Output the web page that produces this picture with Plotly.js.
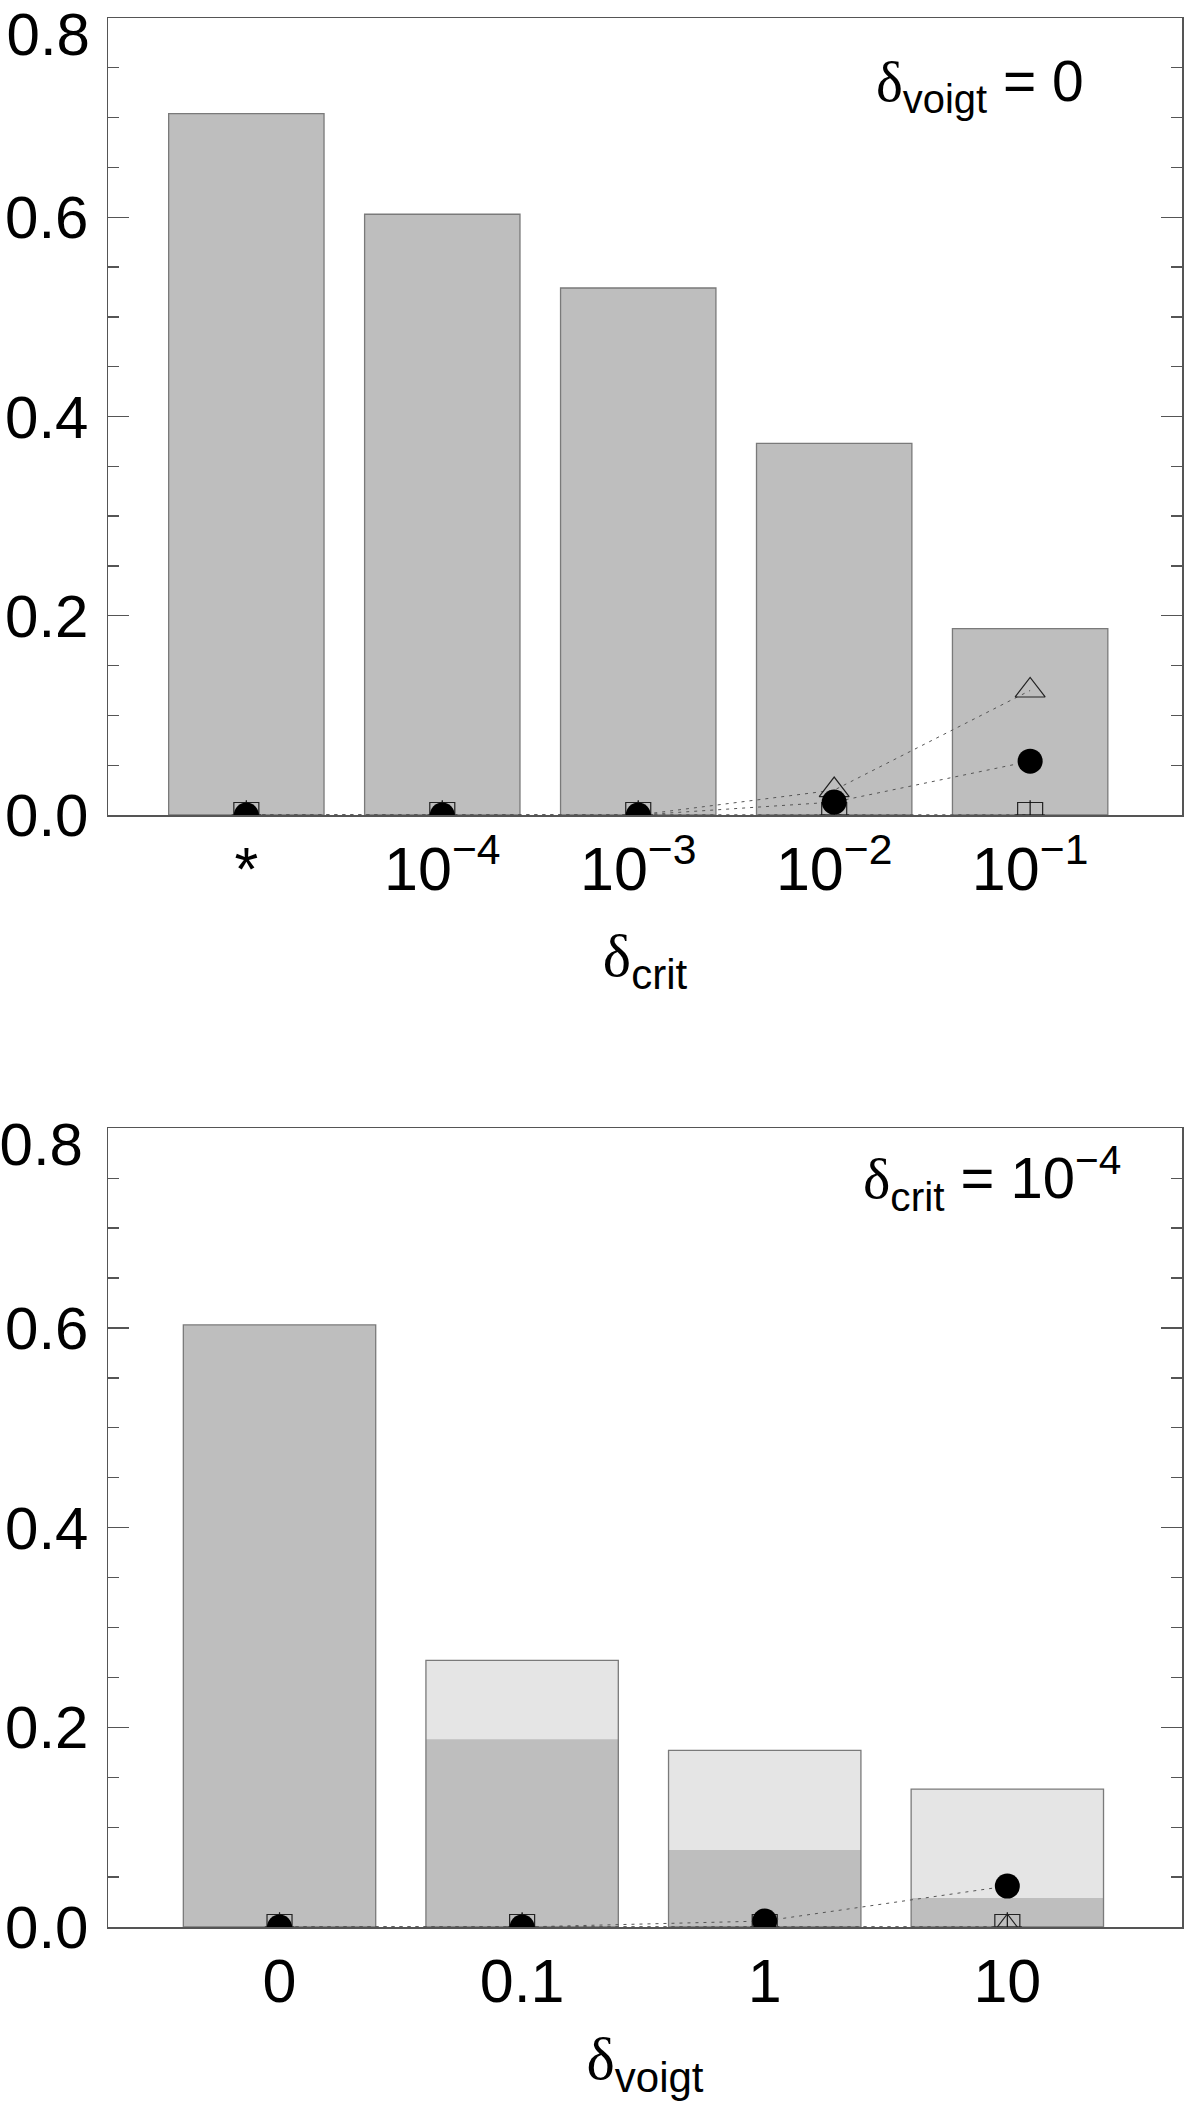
<!DOCTYPE html>
<html><head><meta charset="utf-8">
<script src="https://cdn.plot.ly/plotly-3.0.1.min.js"></script>
<style>body{margin:0;background:#fff}</style>
</head><body>
<div id="chart" style="width:1200px;height:2101px"></div>
<script>
// ---- Top panel (delta_voigt = 0), x = delta_crit ----
const catTop = ["*", "10<sup>\u22124</sup>", "10<sup>\u22123</sup>", "10<sup>\u22122</sup>", "10<sup>\u22121</sup>"];
const barTop = [0.704, 0.603, 0.529, 0.373, 0.187];
const squareTop = [0, 0, 0, 0, 0];
const plusTop = [0, 0, 0, 0, 0];
const triangleTop = [0, 0, 0, 0.025, 0.125];
const circleTop = [0, 0, 0, 0.013, 0.054];

// ---- Bottom panel (delta_crit = 1e-4), x = delta_voigt ----
const catBot = ["0", "0.1", "1", "10"];
const barBotTotal = [0.603, 0.267, 0.177, 0.138];
const barBotDark = [0.603, 0.188, 0.077, 0.029];
const squareBot = [0, 0, 0, 0];
const plusBot = [0, 0, 0, 0];
const triangleBot = [0, 0, 0, 0];
const circleBot = [0, 0, 0.006, 0.041];

const yTicks = [0, 0.2, 0.4, 0.6];
const yTickText = ["0.0", "0.2", "0.4", "0.6"];

const FONT = "Liberation Sans, Arial, Helvetica, sans-serif";
const SERIF = "Liberation Serif, DejaVu Serif, serif";
const DARK = "#bebebe", LIGHT = "#e5e5e5", EDGE = "#7a7a7a", AX = "#555555";
const BW = 0.793;

function markerTraces(cats, sq, pl, tri, ci, xa, ya) {
  const line = {color: "#555", width: 1, dash: "3px,5px"};
  return [
    {type: "scatter", mode: "lines+markers", x: cats, y: sq, xaxis: xa, yaxis: ya, line: line,
     marker: {symbol: "square-open", size: 25, color: "#222", line: {width: 1.2}}, cliponaxis: true},
    {type: "scatter", mode: "lines+markers", x: cats, y: pl, xaxis: xa, yaxis: ya, line: line,
     marker: {symbol: "cross-thin-open", size: 21, color: "#111", line: {width: 1.2}}, cliponaxis: true},
    {type: "scatter", mode: "lines+markers", x: cats, y: tri, xaxis: xa, yaxis: ya, line: line,
     marker: {symbol: "triangle-up-open", size: 26, color: "#222", line: {width: 1.2}}, cliponaxis: true},
    {type: "scatter", mode: "lines+markers", x: cats, y: ci, xaxis: xa, yaxis: ya, line: line,
     marker: {symbol: "circle", size: 25, color: "#000", line: {width: 0}}, cliponaxis: true}
  ];
}

const traces = [
  {type: "bar", x: catTop, y: barTop, xaxis: "x", yaxis: "y", width: BW,
   marker: {color: DARK, line: {color: EDGE, width: 1.3}}},
  ...markerTraces(catTop, squareTop, plusTop, triangleTop, circleTop, "x", "y"),
  {type: "bar", x: catBot, y: barBotTotal, xaxis: "x2", yaxis: "y2", width: BW,
   marker: {color: LIGHT, line: {width: 0}}},
  {type: "bar", x: catBot, y: barBotDark, xaxis: "x2", yaxis: "y2", width: BW,
   marker: {color: DARK, line: {width: 0}}},
  {type: "bar", x: catBot, y: barBotTotal, xaxis: "x2", yaxis: "y2", width: BW,
   marker: {color: "rgba(0,0,0,0)", line: {color: EDGE, width: 1.3}}},
  ...markerTraces(catBot, squareBot, plusBot, triangleBot, circleBot, "x2", "y2"),
  // invisible helper traces for overlay axes carrying the shifted 0.8 label
  {type: "scatter", x: [catTop[0]], y: [0], xaxis: "x", yaxis: "y3", mode: "markers", marker: {opacity: 0}, hoverinfo: "skip"},
  {type: "scatter", x: [catBot[0]], y: [0], xaxis: "x2", yaxis: "y4", mode: "markers", marker: {opacity: 0}, hoverinfo: "skip"}
];

const yCommon = {
  range: [0, 0.8], showline: true, linecolor: AX, linewidth: 1.5, mirror: "ticks",
  ticks: "inside", ticklen: 21, tickcolor: AX, tickwidth: 1.3,
  tickvals: yTicks, ticktext: yTickText, showgrid: false, zeroline: false,
  tickfont: {size: 60, family: FONT, color: "#000"}, ticklabelstandoff: 6,
  minor: {dtick: 0.05, tick0: 0, ticks: "inside", ticklen: 11, tickcolor: AX, tickwidth: 1.3, showgrid: false},
  fixedrange: true
};
const yOver = {
  range: [0, 0.8], showline: false, ticks: "", tickvals: [0.8], ticktext: ["0.8"],
  showgrid: false, zeroline: false, side: "left",
  tickfont: {size: 60, family: FONT, color: "#000"}, ticklabelshift: 16,
  fixedrange: true
};
const xCommon = {
  type: "category", showline: true, linecolor: AX, linewidth: 1.5, mirror: true,
  ticks: "", showgrid: false, zeroline: false,
  tickfont: {size: 61, family: FONT, color: "#000"}, fixedrange: true
};

const layout = {
  width: 1200, height: 2101,
  margin: {l: 108, r: 18, t: 18, b: 174},
  paper_bgcolor: "#fff", plot_bgcolor: "#fff",
  showlegend: false, barmode: "overlay",
  font: {family: FONT, color: "#000"},
  xaxis: Object.assign({}, xCommon, {anchor: "y", range: [-0.706, 4.775],
    title: {text: '<span style="font-family:' + SERIF + '">\u03b4</span><sub>crit</sub>', font: {size: 60, family: FONT}, standoff: 32}}),
  yaxis: Object.assign({}, yCommon, {anchor: "x", domain: [0.5825, 1]}),
  yaxis3: Object.assign({}, yOver, {anchor: "x", overlaying: "y", ticklabelstandoff: 17}),
  xaxis2: Object.assign({}, xCommon, {anchor: "y2", range: [-0.707, 3.72],
    title: {text: '<span style="font-family:' + SERIF + '">\u03b4</span><sub>voigt</sub>', font: {size: 60, family: FONT}, standoff: 24}}),
  yaxis2: Object.assign({}, yCommon, {anchor: "x2", domain: [0, 0.4184]}),
  yaxis4: Object.assign({}, yOver, {anchor: "x2", overlaying: "y2", ticklabelstandoff: 24}),
  annotations: [
    {text: '<span style="font-family:' + SERIF + '">\u03b4</span><sub>voigt</sub> = 0',
     xref: "paper", yref: "paper", x: 0.911, y: 0.965, xanchor: "right", yanchor: "middle",
     showarrow: false, font: {size: 57, family: FONT, color: "#000"}},
    {text: '<span style="font-family:' + SERIF + '">\u03b4</span><sub>crit</sub> = 10<sup>\u22124</sup>',
     xref: "paper", yref: "paper", x: 0.9450, y: 0.392, xanchor: "right", yanchor: "middle",
     showarrow: false, font: {size: 58, family: FONT, color: "#000"}}
  ]
};

Plotly.newPlot("chart", traces, layout, {displayModeBar: false, staticPlot: true});
</script>
</body></html>
